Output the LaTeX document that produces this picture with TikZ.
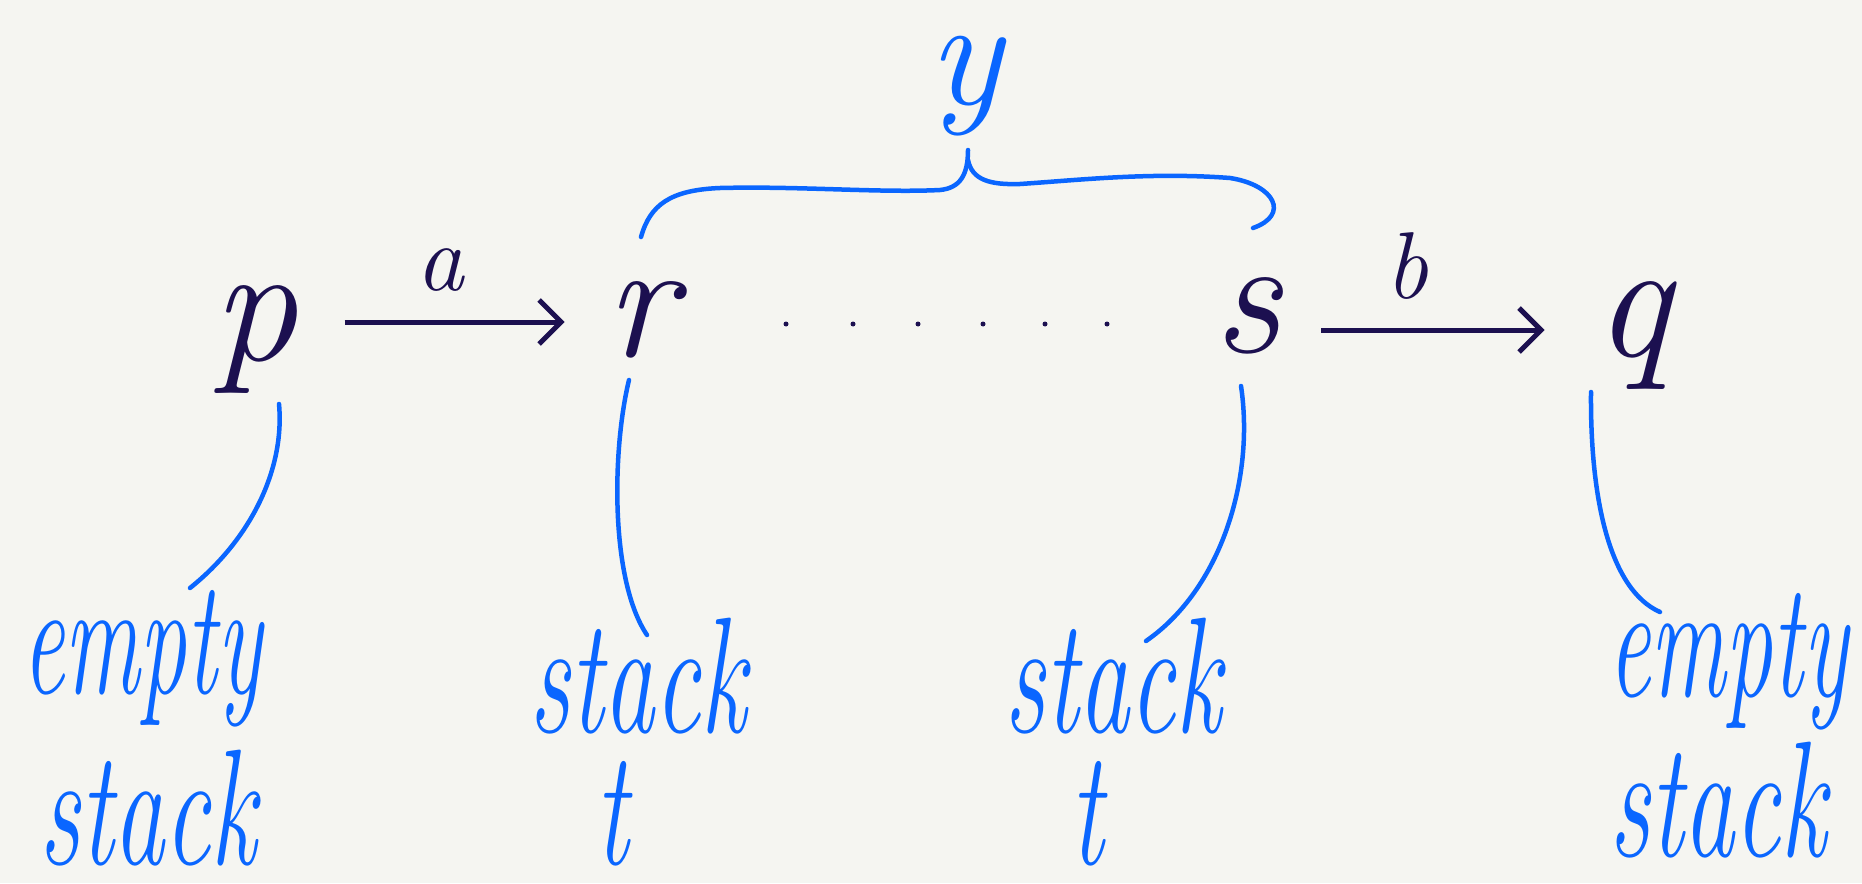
\documentclass[tikz,border=0pt]{standalone}
\usetikzlibrary{arrows.meta}
\definecolor{bg}{HTML}{F5F5F1}
\definecolor{ink}{HTML}{1C1050}
\definecolor{pen}{HTML}{0A66FF}
\newcommand\hw[2][0.62]{\scalebox{#1}[1]{#2}}
\begin{document}
\begin{tikzpicture}[x=1pt,y=-1pt,
 sym/.style={text=ink, font=\fontsize{170}{170}\selectfont\itshape, anchor=base, inner sep=0pt},
 small/.style={text=ink, font=\fontsize{95}{95}\selectfont\itshape, anchor=base, inner sep=0pt},
 lbl/.style={text=pen, font=\fontsize{165}{165}\selectfont\itshape, anchor=base, inner sep=0pt},
 arr/.style={draw=ink, line width=5pt, -{Straight Barb[length=22pt,width=44pt]}},
 conn/.style={draw=pen, line width=4.5pt, line cap=round},
 dotmark/.style={fill=ink, circle, inner sep=0pt, minimum size=5pt}]
\fill[bg] (0,0) rectangle (1862,883);
\useasboundingbox (0,0) rectangle (1862,883);
% states
\node[sym] (p) at (255,360) {p};
\node[sym] (r) at (641,356) {r};
\node[sym] (s) at (1247,352) {s};
\node[sym] (q) at (1633,356) {q};
\node[small] (a) at (440,290) {a};
\node[small] (b) at (1407,298) {b};
\node[lbl, font=\fontsize{155}{155}\selectfont\itshape] (y) at (965,104) {y};
% arrows
\draw[arr] ([shift={(47,-38)}]p.base east) -- ([shift={(-41,-34)}]r.base west);
\draw[arr] ([shift={(40,-22)}]s.base east) -- ([shift={(-50,-26)}]q.base west);
% dots
\foreach \x [count=\i] in {786,853,918,983,1045,1107}
  \node[dotmark] (d\i) at (\x,324) {};
% brace
\coordinate (bl) at (641,237);
\coordinate (bt) at (968,150);
\coordinate (br) at (1253,228);
\draw[conn] (bl) .. controls (650,205) and (670,190) .. (720,188)
  .. controls (800,186) and (880,193) .. (940,190)
  .. controls (960,188) and (968,175) .. (bt);
\draw[conn] (968,160) .. controls (972,180) and (990,185) .. (1020,184)
  .. controls (1080,180) and (1150,172) .. (1230,178)
  .. controls (1275,185) and (1290,215) .. (br);
% labels
\node[lbl] (e1) at (142,693) {\hw[0.57]{empty}};
\node[lbl] (s1) at (148,864) {\hw{stack}};
\node[lbl] (s2) at (638,732) {\hw{stack}};
\node[lbl] (t2) at (612,864) {\hw{t}};
\node[lbl] (s3) at (1113,732) {\hw{stack}};
\node[lbl] (t3) at (1087,864) {\hw{t}};
\node[lbl] (e4) at (1728,696) {\hw[0.57]{empty}};
\node[lbl] (s4) at (1718,856) {\hw{stack}};
% connectors
\coordinate (cp1) at (279,404); \coordinate (cp2) at (190,588);
\coordinate (cr1) at (629,380); \coordinate (cr2) at (647,635);
\coordinate (cs1) at (1241,386); \coordinate (cs2) at (1146,641);
\coordinate (cq1) at (1591,392); \coordinate (cq2) at (1660,612);
\draw[conn] (cp1) .. controls (285,470) and (250,540) .. (cp2);
\draw[conn] (cr1) .. controls (612,450) and (610,580) .. (cr2);
\draw[conn] (cs1) .. controls (1255,480) and (1220,590) .. (cs2);
\draw[conn] (cq1) .. controls (1590,500) and (1610,590) .. (cq2);
\end{tikzpicture}
\end{document}
